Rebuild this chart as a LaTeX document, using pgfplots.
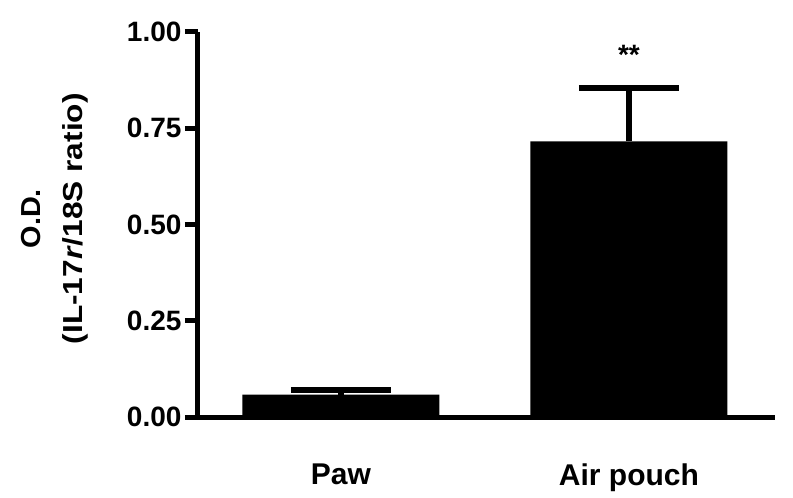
\documentclass[border=0pt]{standalone}
\usepackage{fontspec}
\setmainfont{Liberation Sans}
\usepackage{graphicx}
\usepackage{pgfplots}
\pgfplotsset{compat=1.18}

\begin{document}
\begin{tikzpicture}
\begin{axis}[
    scale only axis,
    width=577bp, height=385bp,
    xmin=-0.4965, xmax=1.507,
    ymin=0, ymax=1,
    axis x line*=bottom,
    axis y line*=left,
    axis line style={line width=5bp, black},
    tick align=outside,
    major tick length=13bp,
    y tick style={line width=5bp, black},
    x tick style={draw=none},
    xtick={0,1},
    xticklabels={Paw, Air pouch},
    xticklabel style={font=\fontsize{30bp}{30bp}\selectfont\bfseries, yshift=-30bp},
    ytick={0,0.25,0.5,0.75,1},
    yticklabel style={font=\fontsize{28bp}{28bp}\selectfont\bfseries,
        /pgf/number format/.cd, fixed, fixed zerofill, precision=2, assume math mode=true},
    ylabel={\begin{tabular}{@{}c@{}}\scalebox{1.05}[1]{O.D.}\\
        \scalebox{1.15}[1]{(IL-17\textit{r}/18S ratio)}\end{tabular}},
    ylabel style={font=\fontsize{27.5bp}{42bp}\selectfont\bfseries,
        at={(axis description cs:-0.251,0.515)}, anchor=center},
]
\addplot[ybar, bar width=197bp, fill=black, draw=none,
    error bars/.cd, y dir=plus, y explicit,
    error bar style={draw=black, line width=5.5bp},
    error mark options={draw=black, rotate=90, line width=6bp, mark size=50bp}]
    coordinates {
    (0, 0.058) +- (0, 0.0115)
    (1, 0.716) +- (0, 0.138)
    };
\node[font=\fontsize{28bp}{28bp}\selectfont\bfseries, anchor=base] at (axis cs:1,0.915) {**};
\end{axis}
\path (current axis.south west) ++(-198bp,-81bp) rectangle ++(793bp,498bp);
\end{tikzpicture}
\end{document}
